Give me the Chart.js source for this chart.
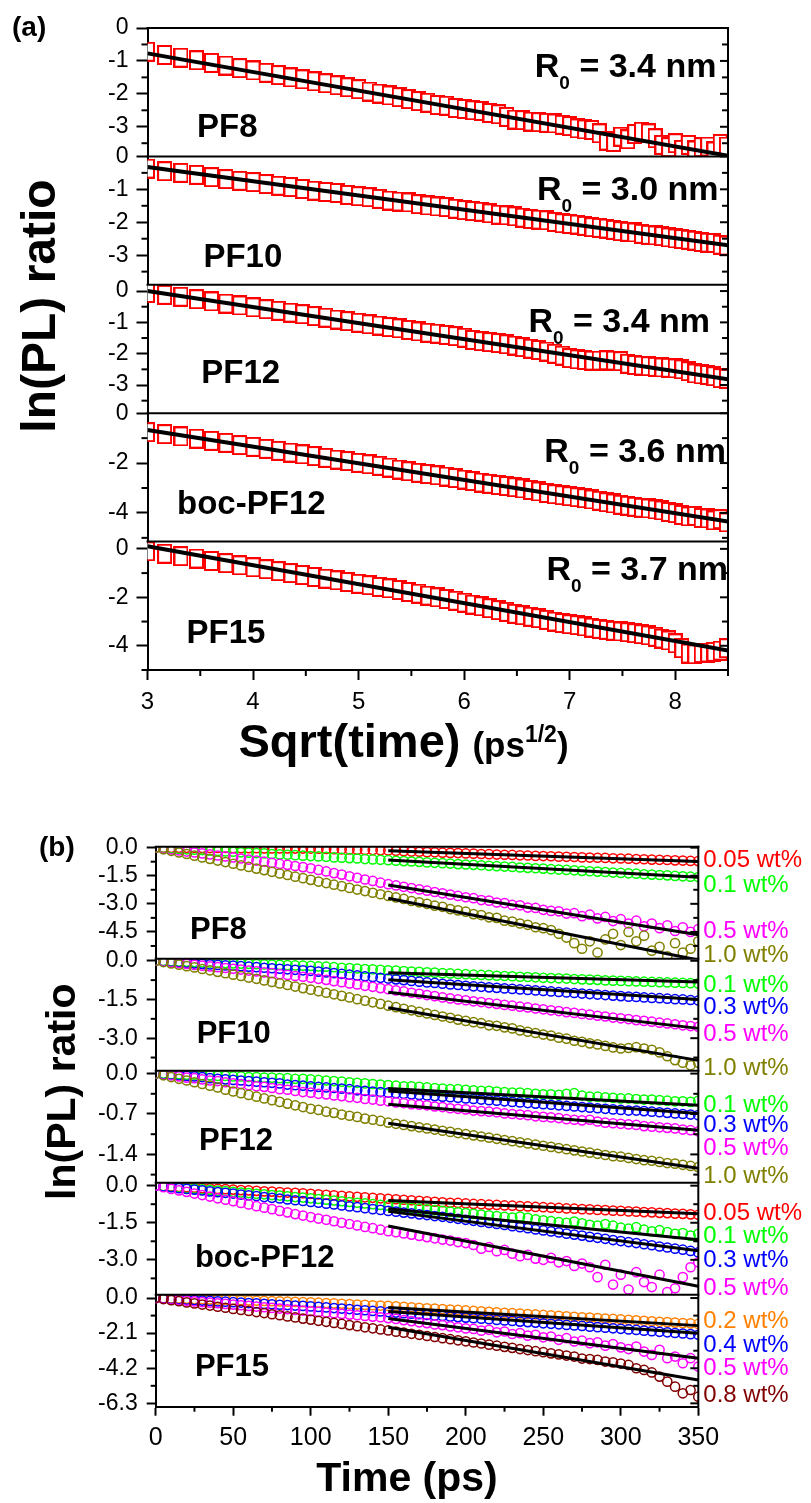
<!DOCTYPE html>
<html>
<head>
<meta charset="utf-8">
<script src="https://cdn.jsdelivr.net/npm/chart.js@4.4.1/dist/chart.umd.min.js"></script>
<style>
  html, body { margin: 0; padding: 0; background: #fff; }
  #wrapA { position: absolute; left: 0; top: 0; width: 811px; height: 790px; }
  #wrapB { position: absolute; left: 0; top: 790px; width: 811px; height: 713px; }
</style>
</head>
<body>
<div id="wrapA"><canvas id="chartA" width="811" height="790"></canvas></div>
<div id="wrapB"><canvas id="chartB" width="811" height="713"></canvas></div>
<script>
// ---------- panel (a): ln(PL) ratio vs sqrt(time) ----------
const sampleNames = ['PF8', 'PF10', 'PF12', 'boc-PF12', 'PF15'];
const r0Values = ['3.4', '3.0', '3.4', '3.6', '3.7'];

const sqrtTime = [3.000,3.162,3.317,3.464,3.606,3.742,3.873,4.000,4.123,4.243,4.359,4.472,4.583,4.690,4.796,4.899,
  5.000,5.099,5.196,5.292,5.385,5.477,5.568,5.657,5.745,5.831,5.916,6.000,6.083,6.164,6.245,6.325,6.403,6.481,6.557,
  6.633,6.708,6.782,6.856,6.928,7.000,7.071,7.141,7.211,7.280,7.348,7.416,7.483,7.550,7.616,7.681,7.746,7.810,7.874,
  7.937,8.000,8.062,8.124,8.185,8.246,8.307,8.367,8.426,8.485];

const lnPF8 = [-0.72,-0.82,-0.90,-0.98,-1.06,-1.14,-1.22,-1.29,-1.36,-1.43,-1.50,-1.56,-1.62,-1.68,-1.74,-1.80,-1.86,-1.93,
  -1.99,-2.05,-2.10,-2.16,-2.22,-2.27,-2.34,-2.36,-2.43,-2.46,-2.50,-2.52,-2.58,-2.62,-2.70,-2.78,-2.80,-2.84,-2.86,-2.88,
  -2.90,-2.94,-2.98,-3.05,-3.08,-3.10,-3.20,-3.42,-3.46,-3.30,-3.38,-3.22,-3.15,-3.20,-3.35,-3.55,-3.62,-3.50,-3.70,-3.55,
  -3.72,-3.62,-3.60,-3.75,-3.52,-3.60];
const lnPF10 = [-0.37,-0.45,-0.50,-0.56,-0.63,-0.69,-0.74,-0.78,-0.84,-0.89,-0.93,-0.99,-1.04,-1.08,-1.11,-1.17,-1.21,-1.24,
  -1.29,-1.34,-1.37,-1.40,-1.45,-1.49,-1.52,-1.54,-1.59,-1.63,-1.66,-1.68,-1.73,-1.77,-1.79,-1.82,-1.86,-1.90,-1.92,-1.94,
  -1.99,-2.03,-2.05,-2.07,-2.11,-2.15,-2.17,-2.19,-2.23,-2.27,-2.29,-2.31,-2.35,-2.38,-2.40,-2.42,-2.46,-2.49,-2.51,-2.53,
  -2.56,-2.60,-2.62,-2.63,-2.68,-2.71];
const lnPF12 = [-0.06,-0.12,-0.18,-0.26,-0.33,-0.40,-0.46,-0.52,-0.58,-0.63,-0.69,-0.74,-0.80,-0.85,-0.91,-0.96,-1.01,-1.06,
  -1.10,-1.15,-1.19,-1.24,-1.29,-1.33,-1.36,-1.40,-1.44,-1.49,-1.56,-1.60,-1.63,-1.66,-1.70,-1.74,-1.79,-1.84,-1.88,-1.93,
  -2.00,-2.06,-2.14,-2.18,-2.20,-2.22,-2.22,-2.21,-2.22,-2.24,-2.32,-2.36,-2.38,-2.40,-2.42,-2.44,-2.45,-2.47,-2.50,-2.56,
  -2.63,-2.66,-2.68,-2.72,-2.78,-2.80];
const lnBocPF12 = [-0.76,-0.84,-0.93,-1.02,-1.11,-1.19,-1.28,-1.35,-1.43,-1.51,-1.58,-1.65,-1.72,-1.79,-1.86,-1.92,-1.99,
  -2.05,-2.11,-2.18,-2.26,-2.33,-2.39,-2.44,-2.49,-2.54,-2.60,-2.66,-2.72,-2.78,-2.83,-2.88,-2.92,-2.97,-3.02,-3.08,-3.14,
  -3.20,-3.25,-3.29,-3.33,-3.37,-3.41,-3.46,-3.51,-3.57,-3.62,-3.67,-3.71,-3.75,-3.79,-3.82,-3.86,-3.90,-3.96,-4.01,-4.08,
  -4.14,-4.12,-4.20,-4.22,-4.30,-4.25,-4.38];
const lnPF15 = [-0.10,-0.20,-0.30,-0.40,-0.50,-0.59,-0.68,-0.76,-0.84,-0.92,-1.00,-1.08,-1.16,-1.23,-1.30,-1.37,-1.44,-1.50,
  -1.57,-1.63,-1.70,-1.78,-1.85,-1.93,-2.00,-2.07,-2.14,-2.22,-2.30,-2.37,-2.45,-2.53,-2.60,-2.68,-2.74,-2.80,-2.86,-2.93,
  -3.00,-3.06,-3.11,-3.15,-3.20,-3.25,-3.30,-3.34,-3.38,-3.41,-3.44,-3.48,-3.52,-3.57,-3.63,-3.70,-3.78,-3.90,-4.10,-4.32,
  -4.35,-4.30,-4.28,-4.25,-4.20,-4.10];

// linear fits (value at sqrt(t)=3 and 8.5)
const fitXA = [3, 8.5];
const fitPF8A = [-0.77, -3.88];
const fitPF10A = [-0.32, -2.70];
const fitPF12A = [0.0, -2.82];
const fitBocA = [-0.67, -4.34];
const fitPF15A = [0.11, -4.20];

// axis limits and ticks, top row first
const limitsA = [[-3.9, 0], [-3.9, 0], [-3.9, 0.2], [-5.15, 0], [-5, 0.3]];
const ticksA_small = [0, -1, -2, -3];
const minorA_small = [-0.5, -1.5, -2.5, -3.5];
const ticksA_big = [0, -2, -4];
const minorA_big = [-1, -3, -5];
const xTicksA = [3, 4, 5, 6, 7, 8];
const xMinorA = [3.5, 4.5, 5.5, 6.5, 7.5, 8.5];

// ---------- panel (b): ln(PL) ratio vs time ----------
const timePs = [0,5,10,15,20,25,30,35,40,45,50,55,60,65,70,75,80,85,90,95,100,105,110,115,120,125,130,135,140,145,150,
  155,160,165,170,175,180,185,190,195,200,205,210,215,220,225,230,235,240,245,250,255,260,265,270,275,280,285,290,295,
  300,305,310,315,320,325,330,335,340,345,350];

const pf8_005 = [0,0,-0.01,-0.01,-0.01,-0.01,-0.02,-0.02,-0.02,-0.02,-0.03, -0.03,-0.03,-0.03,-0.04,-0.04,-0.04,-0.04,-0.05,-0.05,-0.05,
  -0.06,-0.07,-0.08,-0.09,-0.10,-0.11,-0.12,-0.13,-0.14,-0.15, -0.17,-0.19,-0.21,-0.22,-0.24,-0.25,-0.27,-0.28,-0.29,-0.31,
  -0.32,-0.34,-0.35,-0.37,-0.38,-0.39,-0.41,-0.42,-0.44,-0.45, -0.46,-0.48,-0.49,-0.50,-0.52,-0.53,-0.54,-0.55,-0.57,-0.58,
  -0.59,-0.61,-0.62,-0.64,-0.65,-0.66,-0.68,-0.69,-0.71,-0.72];
const pf8_01 = [0,-0.02,-0.04,-0.07,-0.09,-0.11,-0.13,-0.16,-0.18,-0.20,-0.22, -0.25,-0.27,-0.29,-0.31,-0.34,-0.36,-0.38,-0.40,-0.43,-0.45,
  -0.47,-0.49,-0.52,-0.54,-0.56,-0.58,-0.61,-0.63,-0.65,-0.67, -0.70,-0.72,-0.74,-0.76,-0.79,-0.81,-0.83,-0.85,-0.88,-0.90,
  -0.92,-0.94,-0.97,-0.99,-1.01,-1.03,-1.06,-1.08,-1.10,-1.12, -1.15,-1.17,-1.19,-1.21,-1.24,-1.26,-1.28,-1.30,-1.33,-1.35,
  -1.37,-1.39,-1.42,-1.44,-1.46,-1.48,-1.51,-1.53,-1.55,-1.57];
const pf8_05 = [0,-0.05,-0.10,-0.15,-0.21,-0.26,-0.31,-0.36,-0.42,-0.47,-0.52, -0.58,-0.64,-0.69,-0.75,-0.81,-0.87,-0.92,-0.98,-1.04,-1.10,
  -1.19,-1.27,-1.36,-1.44,-1.53,-1.61,-1.70,-1.78,-1.87,-1.95, -2.02,-2.09,-2.16,-2.23,-2.30,-2.37,-2.44,-2.51,-2.58,-2.65,
  -2.70,-2.80,-2.83,-2.93,-2.96,-3.06,-3.08,-3.20,-3.22,-3.32, -3.38,-3.40,-3.52,-3.50,-3.66,-3.58,-3.78,-3.70,-3.92,-3.82,
  -4.05,-3.90,-4.20,-4.05,-4.30,-4.15,-4.45,-4.25,-4.50,-4.35];
const pf8_10 = [0,-0.09,-0.17,-0.26,-0.34,-0.43,-0.52,-0.60,-0.69,-0.77,-0.86, -0.95,-1.03,-1.12,-1.20,-1.29,-1.38,-1.46,-1.55,-1.63,-1.72,
  -1.81,-1.89,-1.98,-2.06,-2.15,-2.24,-2.32,-2.41,-2.49,-2.58, -2.66,-2.74,-2.85,-2.92,-3.00,-3.10,-3.16,-3.28,-3.35,-3.42,
  -3.55,-3.60,-3.72,-3.75,-3.90,-3.95,-4.05,-4.12,-4.25,-4.30, -4.40,-4.60,-4.80,-5.10,-5.40,-5.00,-5.60,-4.90,-4.60,-5.20,
  -4.50,-5.00,-4.70,-5.50,-5.30,-5.80,-5.10,-5.60,-5.40,-5.00];

const pf10_01 = [0,-0.01,-0.02,-0.03,-0.04,-0.05,-0.06,-0.07,-0.08,-0.09,-0.10, -0.11,-0.12,-0.13,-0.14,-0.15,-0.16,-0.17,-0.18,-0.19,-0.20,
  -0.22,-0.23,-0.25,-0.27,-0.28,-0.30,-0.32,-0.33,-0.35,-0.37, -0.38,-0.40,-0.42,-0.43,-0.45,-0.46,-0.48,-0.49,-0.51,-0.52,
  -0.54,-0.55,-0.56,-0.58,-0.59,-0.60,-0.62,-0.63,-0.64,-0.66, -0.67,-0.68,-0.69,-0.71,-0.72,-0.73,-0.74,-0.76,-0.77,-0.78,
  -0.79,-0.80,-0.81,-0.82,-0.83,-0.84,-0.85,-0.86,-0.87,-0.88];
const pf10_03 = [0,-0.02,-0.04,-0.06,-0.08,-0.10,-0.12,-0.14,-0.16,-0.18,-0.19, -0.21,-0.23,-0.25,-0.27,-0.29,-0.31,-0.33,-0.35,-0.37,-0.39,
  -0.42,-0.45,-0.48,-0.51,-0.54,-0.57,-0.60,-0.63,-0.66,-0.69, -0.72,-0.75,-0.78,-0.81,-0.84,-0.86,-0.89,-0.92,-0.94,-0.97,
  -0.99,-1.01,-1.03,-1.05,-1.07,-1.09,-1.11,-1.13,-1.15,-1.17, -1.19,-1.21,-1.23,-1.25,-1.27,-1.29,-1.31,-1.33,-1.35,-1.37,
  -1.39,-1.40,-1.42,-1.44,-1.45,-1.47,-1.49,-1.50,-1.52,-1.54];
const pf10_05 = [0,-0.03,-0.06,-0.09,-0.12,-0.16,-0.19,-0.22,-0.25,-0.28,-0.31, -0.34,-0.38,-0.41,-0.45,-0.48,-0.52,-0.55,-0.59,-0.62,-0.66,
  -0.70,-0.74,-0.79,-0.83,-0.88,-0.92,-0.97,-1.01,-1.06,-1.10, -1.15,-1.19,-1.24,-1.28,-1.33,-1.37,-1.42,-1.46,-1.50,-1.53,
  -1.57,-1.60,-1.64,-1.67,-1.71,-1.74,-1.78,-1.81,-1.85,-1.88, -1.92,-1.95,-1.99,-2.02,-2.06,-2.09,-2.13,-2.16,-2.20,-2.23,
  -2.26,-2.30,-2.33,-2.36,-2.40,-2.43,-2.46,-2.50,-2.53,-2.56];
const pf10_10 = [0,-0.05,-0.10,-0.15,-0.21,-0.26,-0.32,-0.37,-0.43,-0.48,-0.54, -0.59,-0.65,-0.70,-0.76,-0.82,-0.88,-0.94,-1.00,-1.06,-1.12,
  -1.18,-1.24,-1.30,-1.36,-1.42,-1.49,-1.55,-1.61,-1.67,-1.74, -1.80,-1.86,-1.92,-1.98,-2.04,-2.10,-2.16,-2.21,-2.28,-2.33,
  -2.38,-2.42,-2.50,-2.52,-2.58,-2.62,-2.70,-2.75,-2.80,-2.86, -2.90,-2.98,-3.02,-3.10,-3.14,-3.20,-3.24,-3.30,-3.36,-3.40,
  -3.38,-3.35,-3.40,-3.45,-3.55,-3.70,-3.85,-3.95,-4.05,-3.95];

const pf12_01 = [0,0,-0.01,-0.01,-0.02,-0.02,-0.03,-0.03,-0.04,-0.04,-0.05, -0.05,-0.06,-0.06,-0.07,-0.07,-0.08,-0.08,-0.09,-0.09,-0.10,
  -0.11,-0.12,-0.13,-0.14,-0.15,-0.16,-0.17,-0.18,-0.19,-0.20, -0.21,-0.22,-0.22,-0.23,-0.24,-0.25,-0.26,-0.27,-0.27,-0.28,
  -0.29,-0.30,-0.30,-0.31,-0.32,-0.33,-0.33,-0.34,-0.35,-0.36, -0.36,-0.37,-0.35,-0.34,-0.38,-0.40,-0.40,-0.41,-0.42,-0.43,
  -0.43,-0.44,-0.45,-0.45,-0.46,-0.47,-0.48,-0.48,-0.49,-0.47];
const pf12_03 = [0,-0.01,-0.02,-0.03,-0.04,-0.05,-0.06,-0.08,-0.09,-0.10,-0.11, -0.12,-0.13,-0.14,-0.15,-0.16,-0.17,-0.19,-0.20,-0.21,-0.22,
  -0.23,-0.24,-0.25,-0.26,-0.27,-0.29,-0.30,-0.31,-0.32,-0.33, -0.34,-0.35,-0.36,-0.37,-0.38,-0.39,-0.40,-0.41,-0.42,-0.43,
  -0.44,-0.45,-0.46,-0.47,-0.48,-0.49,-0.50,-0.51,-0.52,-0.53, -0.54,-0.55,-0.56,-0.57,-0.58,-0.59,-0.60,-0.61,-0.62,-0.63,
  -0.64,-0.64,-0.65,-0.66,-0.67,-0.68,-0.69,-0.70,-0.71,-0.72];
const pf12_05 = [0,-0.02,-0.03,-0.05,-0.07,-0.08,-0.10,-0.12,-0.13,-0.15,-0.17, -0.18,-0.20,-0.22,-0.23,-0.25,-0.27,-0.28,-0.30,-0.32,-0.33,
  -0.35,-0.36,-0.38,-0.39,-0.41,-0.42,-0.44,-0.45,-0.47,-0.48, -0.50,-0.51,-0.53,-0.54,-0.55,-0.57,-0.58,-0.60,-0.61,-0.62,
  -0.64,-0.65,-0.66,-0.67,-0.69,-0.70,-0.71,-0.72,-0.74,-0.75, -0.76,-0.77,-0.79,-0.80,-0.81,-0.80,-0.83,-0.85,-0.86,-0.87,
  -0.88,-0.89,-0.91,-0.92,-0.93,-0.94,-0.95,-0.97,-0.98,-1.00];
const pf12_10 = [0,-0.03,-0.06,-0.09,-0.12,-0.15,-0.18,-0.21,-0.24,-0.28,-0.31, -0.34,-0.37,-0.40,-0.43,-0.46,-0.49,-0.52,-0.55,-0.58,-0.61,
  -0.63,-0.66,-0.68,-0.71,-0.73,-0.75,-0.78,-0.80,-0.82,-0.85, -0.87,-0.89,-0.91,-0.93,-0.95,-0.97,-0.99,-1.01,-1.03,-1.05,
  -1.07,-1.09,-1.11,-1.13,-1.15,-1.17,-1.19,-1.21,-1.23,-1.25, -1.27,-1.29,-1.31,-1.33,-1.35,-1.37,-1.39,-1.41,-1.43,-1.44,
  -1.46,-1.48,-1.50,-1.51,-1.53,-1.55,-1.56,-1.58,-1.60,-1.62];

const boc_005 = [0,-0.02,-0.03,-0.05,-0.06,-0.08,-0.10,-0.11,-0.13,-0.14,-0.16, -0.18,-0.19,-0.21,-0.23,-0.24,-0.26,-0.28,-0.29,-0.31,-0.33,
  -0.35,-0.37,-0.39,-0.41,-0.43,-0.45,-0.47,-0.49,-0.51,-0.53, -0.55,-0.57,-0.59,-0.61,-0.63,-0.65,-0.67,-0.69,-0.70,-0.72,
  -0.74,-0.75,-0.77,-0.78,-0.80,-0.81,-0.83,-0.84,-0.86,-0.87, -0.89,-0.90,-0.92,-0.93,-0.95,-0.96,-0.98,-0.99,-1.01,-1.02,
  -1.04,-1.05,-1.07,-1.08,-1.10,-1.11,-1.13,-1.14,-1.16,-1.18];
const boc_01 = [0,-0.02,-0.05,-0.07,-0.10,-0.12,-0.15,-0.17,-0.20,-0.22,-0.25, -0.28,-0.30,-0.33,-0.35,-0.38,-0.40,-0.43,-0.46,-0.48,-0.51,
  -0.54,-0.57,-0.60,-0.63,-0.66,-0.69,-0.72,-0.75,-0.78,-0.81, -0.84,-0.87,-0.90,-0.93,-0.96,-0.99,-1.02,-1.05,-1.08,-1.11,
  -1.14,-1.17,-1.20,-1.23,-1.26,-1.29,-1.25,-1.30,-1.36,-1.40, -1.43,-1.47,-1.50,-1.45,-1.52,-1.58,-1.62,-1.55,-1.62,-1.70,
  -1.74,-1.68,-1.78,-1.85,-1.80,-1.88,-1.95,-1.92,-2.02,-1.95];
const boc_03 = [0,-0.03,-0.06,-0.10,-0.13,-0.16,-0.19,-0.23,-0.26,-0.29,-0.32, -0.36,-0.39,-0.42,-0.46,-0.49,-0.52,-0.56,-0.59,-0.62,-0.66,
  -0.69,-0.73,-0.76,-0.80,-0.84,-0.87,-0.91,-0.95,-0.98,-1.02, -1.05,-1.09,-1.12,-1.16,-1.19,-1.23,-1.26,-1.30,-1.34,-1.38,
  -1.42,-1.47,-1.51,-1.55,-1.59,-1.64,-1.68,-1.72,-1.77,-1.81, -1.85,-1.89,-1.94,-1.98,-2.02,-2.07,-2.11,-2.15,-2.20,-2.24,
  -2.28,-2.32,-2.37,-2.41,-2.46,-2.50,-2.55,-2.59,-2.64,-2.70];
const boc_05 = [0,-0.06,-0.13,-0.19,-0.25,-0.32,-0.38,-0.44,-0.51,-0.57,-0.63, -0.70,-0.76,-0.83,-0.89,-0.95,-1.02,-1.08,-1.15,-1.21,-1.27,
  -1.33,-1.38,-1.44,-1.50,-1.55,-1.61,-1.67,-1.72,-1.78,-1.84, -1.88,-1.93,-1.98,-2.03,-2.08,-2.13,-2.18,-2.22,-2.28,-2.32,
  -2.40,-2.55,-2.48,-2.65,-2.60,-2.75,-2.85,-2.80,-2.95,-3.00, -2.92,-3.10,-3.05,-3.25,-3.15,-3.30,-3.70,-3.20,-4.00,-3.60,
  -4.20,-3.50,-3.90,-4.10,-3.60,-4.30,-4.15,-3.70,-3.30,-3.10];

const pf15_02 = [0,-0.01,-0.02,-0.03,-0.04,-0.06,-0.07,-0.08,-0.09,-0.10,-0.11, -0.13,-0.14,-0.16,-0.17,-0.19,-0.20,-0.22,-0.23,-0.25,-0.26,
  -0.28,-0.30,-0.32,-0.34,-0.36,-0.39,-0.41,-0.43,-0.45,-0.47, -0.50,-0.53,-0.55,-0.58,-0.61,-0.63,-0.66,-0.69,-0.71,-0.74,
  -0.77,-0.79,-0.82,-0.85,-0.88,-0.90,-0.93,-0.96,-0.98,-1.01, -1.04,-1.06,-1.09,-1.12,-1.15,-1.17,-1.20,-1.23,-1.25,-1.28,
  -1.31,-1.33,-1.36,-1.39,-1.42,-1.44,-1.47,-1.50,-1.52,-1.55];
const pf15_04 = [0,-0.02,-0.05,-0.07,-0.10,-0.12,-0.15,-0.17,-0.20,-0.22,-0.25, -0.27,-0.30,-0.32,-0.35,-0.37,-0.40,-0.42,-0.45,-0.47,-0.50,
  -0.53,-0.56,-0.60,-0.63,-0.66,-0.70,-0.73,-0.77,-0.80,-0.84, -0.87,-0.91,-0.94,-0.97,-1.01,-1.04,-1.07,-1.11,-1.14,-1.17,
  -1.21,-1.24,-1.27,-1.31,-1.34,-1.37,-1.41,-1.44,-1.47,-1.51, -1.54,-1.57,-1.61,-1.64,-1.67,-1.71,-1.74,-1.77,-1.81,-1.84,
  -1.88,-1.91,-1.95,-1.98,-2.02,-2.05,-2.09,-2.12,-2.16,-2.20];
const pf15_05 = [0,-0.04,-0.08,-0.12,-0.16,-0.20,-0.24,-0.28,-0.31,-0.35,-0.39, -0.43,-0.47,-0.51,-0.55,-0.59,-0.63,-0.67,-0.71,-0.75,-0.79,
  -0.83,-0.87,-0.91,-0.95,-0.99,-1.03,-1.07,-1.11,-1.15,-1.20, -1.25,-1.32,-1.38,-1.45,-1.50,-1.58,-1.62,-1.70,-1.75,-1.82,
  -1.85,-1.95,-1.90,-2.05,-2.00,-2.15,-2.10,-2.25,-2.20,-2.35, -2.30,-2.50,-2.40,-2.60,-2.55,-2.70,-2.65,-2.85,-2.75,-2.95,
  -3.05,-2.90,-3.20,-3.40,-3.10,-3.60,-3.50,-3.90,-3.60,-4.10];
const pf15_08 = [0,-0.06,-0.13,-0.19,-0.26,-0.32,-0.39,-0.45,-0.52,-0.58,-0.65, -0.71,-0.77,-0.84,-0.90,-0.97,-1.03,-1.10,-1.16,-1.23,-1.29,
  -1.36,-1.42,-1.49,-1.55,-1.62,-1.68,-1.75,-1.81,-1.88,-1.94, -2.01,-2.07,-2.14,-2.20,-2.27,-2.33,-2.40,-2.46,-2.53,-2.59,
  -2.66,-2.72,-2.79,-2.85,-2.92,-2.98,-3.05,-3.11,-3.18,-3.24, -3.31,-3.37,-3.44,-3.50,-3.62,-3.65,-3.70,-3.80,-3.85,-3.92,
  -4.00,-4.20,-4.30,-4.45,-4.70,-5.00,-5.30,-5.70,-5.50,-5.90];

// linear fits over 150-350 ps (start, end) per series
const fitXB = [150, 350];
const fitPF8B = [[-0.17, -0.74], [-0.66, -1.58], [-2.00, -4.65], [-2.70, -6.00]];
const fitPF10B = [[-0.46, -0.82], [-0.74, -1.50], [-1.22, -2.62], [-1.82, -3.86]];
const fitPF12B = [[-0.26, -0.55], [-0.30, -0.69], [-0.53, -0.98], [-0.86, -1.64]];
const fitBocB = [[-0.60, -1.14], [-0.93, -2.19], [-1.04, -2.63], [-1.63, -4.07]];
const fitPF15B = [[-0.56, -1.65], [-0.80, -2.10], [-1.22, -3.60], [-1.75, -4.90]];

const concB = [['0.05', '0.1', '0.5', '1.0'], ['0.1', '0.3', '0.5', '1.0'], ['0.1', '0.3', '0.5', '1.0'],
  ['0.05', '0.1', '0.3', '0.5'], ['0.2', '0.4', '0.5', '0.8']];

const limitsB = [[-5.93, 0.05], [-4.26, 0.08], [-1.89, 0.05], [-4.41, 0.12], [-6.5, 0.2]];
const ticksB = [[0, -1.5, -3, -4.5], [0, -1.5, -3], [0, -0.7, -1.4], [0, -1.5, -3], [0, -2.1, -4.2, -6.3]];
const minorB = [[-0.75, -2.25, -3.75, -5.25], [-0.75, -2.25, -3.75], [-0.35, -1.05, -1.75], [-0.75, -2.25, -3.75], [-1.05, -3.15, -5.25]];
const xTicksB = [0, 50, 100, 150, 200, 250, 300, 350];
const xMinorB = [25, 75, 125, 175, 225, 275, 325];

// ---------- styles / placement ----------
const FONT = '"Liberation Sans", Arial, sans-serif';
const concColor = { '0.05': '#ff0000', '0.1': '#00ff00', '0.2': '#ff8000', '0.3': '#0000ff', '0.4': '#0000ff',
  '0.5': '#ff00ff', '0.8': '#800000', '1.0': '#808000' };

// label anchors in data units of each row
const nameAtA = [[3.47, -3.32], [3.53, -3.36], [3.51, -2.95], [3.28, -4.04], [3.37, -3.89]];
const r0AtA = [[8.39, -1.49], [8.41, -1.33], [8.33, -1.30], [8.48, -1.96], [8.50, -1.28]];
const nameAtB = [[22.1, -4.86], [26.4, -3.2], [27.9, -1.32], [25.3, -3.27], [25.3, -4.66]];
const wtAtB = [[-1.02, -2.36, -4.81, -6.11], [-1.21, -2.07, -3.10, -4.43], [-0.66, -1.02, -1.41, -1.90],
  [-1.38, -2.32, -3.27, -4.41], [-1.80, -3.20, -4.60, -6.20]];

Chart.defaults.font.family = FONT;
Chart.defaults.color = '#000';

function squareMarker() {
  var c = document.createElement('canvas');
  c.width = 15; c.height = 20;
  var g = c.getContext('2d');
  g.fillStyle = '#fff';
  g.fillRect(0, 0, 15, 20);
  g.strokeStyle = '#ff0000';
  g.lineWidth = 2;
  g.strokeRect(1, 1, 13, 18);
  return c;
}

function yAxis(limits, major, idx, opt) {
  return {
    type: 'linear', position: 'left', stack: 'rows', stackWeight: 1, weight: 5 - idx,
    min: limits[0], max: limits[1],
    afterBuildTicks: function(s) { s.ticks = major.map(function(v) { return { value: v }; }); },
    afterFit: function(s) { s.width = opt.left; },
    ticks: {
      font: { family: FONT, size: opt.font }, color: '#000', padding: opt.pad, autoSkip: false,
      callback: function(v) { return Number(v).toFixed(opt.dec); }
    },
    grid: { drawOnChartArea: false, drawTicks: true, tickLength: opt.tick, tickWidth: 2, tickColor: '#000' },
    border: { display: true, color: '#000', width: 2 }
  };
}

function xAxis(min, max, major, opt) {
  return {
    type: 'linear', position: 'bottom', min: min, max: max,
    afterBuildTicks: function(s) { s.ticks = major.map(function(v) { return { value: v }; }); },
    afterFit: function(s) { s.height = opt.height; },
    ticks: { font: { family: FONT, size: opt.font }, color: '#000', padding: opt.pad, maxRotation: 0, autoSkip: false },
    grid: { drawOnChartArea: false, drawTicks: true, tickLength: opt.tick, tickWidth: 2, tickColor: '#000' },
    border: { display: true, color: '#000', width: 2 }
  };
}

function pts(xs, ys) {
  return xs.map(function(x, i) { return { x: x, y: ys[i] }; });
}

function fitLine(xr, yr, axisId, width) {
  return {
    data: [{ x: xr[0], y: yr[0] }, { x: xr[1], y: yr[1] }], yAxisID: axisId,
    showLine: true, borderColor: '#000', borderWidth: width, pointRadius: 0, order: 0
  };
}

// frame, minor/mirror ticks and all annotation text
function framePlugin(cfg) {
  return {
    id: 'frame' + cfg.prefix,
    afterDraw: function(chart) {
      var ctx = chart.ctx, a = chart.chartArea;
      var seg = function(x1, y1, x2, y2) { ctx.beginPath(); ctx.moveTo(x1, y1); ctx.lineTo(x2, y2); ctx.stroke(); };
      ctx.save();
      ctx.strokeStyle = '#000';
      ctx.lineWidth = 2;
      cfg.major.forEach(function(maj, i) {
        var s = chart.scales[cfg.prefix + i];
        seg(a.left - 1, s.top, a.right + 1, s.top);
        cfg.minor[i].forEach(function(v) {
          var y = s.getPixelForValue(v);
          seg(a.left - cfg.minorLen, y, a.left, y);
          seg(a.right - cfg.minorLen, y, a.right, y);
        });
        maj.forEach(function(v) {
          var y = s.getPixelForValue(v);
          seg(a.right - cfg.rightLen, y, a.right, y);
        });
      });
      seg(a.right, a.top - 1, a.right, a.bottom + 1);
      var xs = chart.scales.x;
      cfg.xMinor.forEach(function(v) {
        var x = xs.getPixelForValue(v);
        seg(x, a.bottom, x, a.bottom + cfg.minorLen);
      });
      ctx.fillStyle = '#000';
      ctx.textBaseline = 'alphabetic';
      cfg.text(chart, ctx, a);
      ctx.restore();
    }
  };
}

function drawR0(ctx, xRight, yBase, val) {
  var main = 'bold 34px ' + FONT, sub = 'bold 19px ' + FONT;
  var rest = ' = ' + val + ' nm';
  ctx.font = main;
  var wR = ctx.measureText('R').width, wRest = ctx.measureText(rest).width;
  ctx.font = sub;
  var wS = ctx.measureText('0').width;
  var x = xRight - wR - wS - wRest;
  ctx.textAlign = 'left';
  ctx.font = main; ctx.fillText('R', x, yBase); x += wR;
  ctx.font = sub; ctx.fillText('0', x, yBase + 12); x += wS;
  ctx.font = main; ctx.fillText(rest, x, yBase);
}

function textA(chart, ctx, a) {
  var xs = chart.scales.x;
  sampleNames.forEach(function(name, i) {
    var ys = chart.scales['a' + i];
    ctx.textAlign = 'left';
    ctx.font = 'bold 33px ' + FONT;
    ctx.fillText(name, xs.getPixelForValue(nameAtA[i][0]), ys.getPixelForValue(nameAtA[i][1]));
    drawR0(ctx, xs.getPixelForValue(r0AtA[i][0]), ys.getPixelForValue(r0AtA[i][1]), r0Values[i]);
  });
  ctx.textAlign = 'left';
  ctx.font = 'bold 28px ' + FONT;
  ctx.fillText('(a)', 12, 36);
  // y title
  ctx.save();
  ctx.translate(55, (a.top + a.bottom) / 2 - 43);
  ctx.rotate(-Math.PI / 2);
  ctx.textAlign = 'center';
  ctx.font = 'bold 48px ' + FONT;
  ctx.fillText('ln(PL) ratio', 0, 0);
  ctx.restore();
  // x title with superscript
  var x = a.left + 91, y = a.bottom + 87;
  ctx.textAlign = 'left';
  ctx.font = 'bold 47px ' + FONT;
  ctx.fillText('Sqrt(time)', x, y); x += ctx.measureText('Sqrt(time)').width + 12;
  ctx.font = 'bold 35px ' + FONT;
  ctx.fillText('(ps', x, y); x += ctx.measureText('(ps').width;
  ctx.font = 'bold 23px ' + FONT;
  ctx.fillText('1/2', x, y - 15); x += ctx.measureText('1/2').width;
  ctx.font = 'bold 35px ' + FONT;
  ctx.fillText(')', x, y);
}

function textB(chart, ctx, a) {
  var xs = chart.scales.x;
  sampleNames.forEach(function(name, i) {
    var ys = chart.scales['b' + i];
    ctx.textAlign = 'left';
    ctx.fillStyle = '#000';
    ctx.font = 'bold 31px ' + FONT;
    ctx.fillText(name, xs.getPixelForValue(nameAtB[i][0]), ys.getPixelForValue(nameAtB[i][1]));
    ctx.font = '24px ' + FONT;
    concB[i].forEach(function(c, j) {
      ctx.fillStyle = concColor[c];
      ctx.fillText(c + ' wt%', a.right + 5, ys.getPixelForValue(wtAtB[i][j]));
    });
  });
  ctx.fillStyle = '#000';
  ctx.font = 'bold 28px ' + FONT;
  ctx.fillText('(b)', 39, 66);
  ctx.save();
  ctx.translate(75, (a.top + a.bottom) / 2 - 35);
  ctx.rotate(-Math.PI / 2);
  ctx.textAlign = 'center';
  ctx.font = 'bold 41px ' + FONT;
  ctx.fillText('ln(PL) ratio', 0, 0);
  ctx.restore();
  ctx.textAlign = 'center';
  ctx.font = 'bold 41px ' + FONT;
  ctx.fillText('Time (ps)', (a.left + a.right) / 2 - 20, a.bottom + 84);
}

// ---------- chart (a) ----------
var marker = squareMarker();
var seriesA = [lnPF8, lnPF10, lnPF12, lnBocPF12, lnPF15];
var fitsA = [fitPF8A, fitPF10A, fitPF12A, fitBocA, fitPF15A];
var majorA = [ticksA_small, ticksA_small, ticksA_small, ticksA_big, ticksA_big];
var minorA = [minorA_small, minorA_small, minorA_small, minorA_big, minorA_big];

var datasetsA = [];
var scalesA = { x: xAxis(3, 8.5, xTicksA, { height: 120, font: 24, pad: 8, tick: 10 }) };
seriesA.forEach(function(ys, i) {
  var id = 'a' + i;
  scalesA[id] = yAxis(limitsA[i], majorA[i], i, { left: 147.5, font: 23, pad: 8, tick: 11, dec: 0 });
  datasetsA.push({ data: pts(sqrtTime, ys), yAxisID: id, pointStyle: marker, pointRadius: 10, showLine: false, order: 1 });
  datasetsA.push(fitLine(fitXA, fitsA[i], id, 4));
});

new Chart(document.getElementById('chartA'), {
  type: 'scatter',
  data: { datasets: datasetsA },
  options: {
    responsive: false, animation: false,
    layout: { padding: { top: 28, right: 83, left: 0, bottom: 0 } },
    plugins: { legend: { display: false }, tooltip: { enabled: false } },
    scales: scalesA
  },
  plugins: [framePlugin({ prefix: 'a', major: majorA, minor: minorA, xMinor: xMinorA, minorLen: 6, rightLen: 8, text: textA })]
});

// ---------- chart (b) ----------
var seriesB = [[pf8_005, pf8_01, pf8_05, pf8_10], [pf10_01, pf10_03, pf10_05, pf10_10], [pf12_01, pf12_03, pf12_05, pf12_10],
  [boc_005, boc_01, boc_03, boc_05], [pf15_02, pf15_04, pf15_05, pf15_08]];
var fitsB = [fitPF8B, fitPF10B, fitPF12B, fitBocB, fitPF15B];

var datasetsB = [];
var scalesB = { x: xAxis(0, 350, xTicksB, { height: 96.3, font: 25, pad: 7, tick: 9 }) };
seriesB.forEach(function(group, i) {
  var id = 'b' + i;
  scalesB[id] = yAxis(limitsB[i], ticksB[i], i, { left: 155.7, font: 23, pad: 9, tick: 9, dec: 1 });
  group.forEach(function(ys, j) {
    var col = concColor[concB[i][j]];
    datasetsB.push({
      data: pts(timePs, ys), yAxisID: id, showLine: false, pointStyle: 'circle', pointRadius: 4.6,
      borderColor: col, backgroundColor: 'rgba(0,0,0,0)', borderWidth: 1.5, order: 10 - j
    });
    datasetsB.push(fitLine(fitXB, fitsB[i][j], id, 3));
  });
});

new Chart(document.getElementById('chartB'), {
  type: 'scatter',
  data: { datasets: datasetsB },
  options: {
    responsive: false, animation: false,
    layout: { padding: { top: 56.7, right: 112.7, left: 0, bottom: 0 } },
    plugins: { legend: { display: false }, tooltip: { enabled: false } },
    scales: scalesB
  },
  plugins: [framePlugin({ prefix: 'b', major: ticksB, minor: minorB, xMinor: xMinorB, minorLen: 5, rightLen: 8, text: textB })]
});
</script>
</body>
</html>
